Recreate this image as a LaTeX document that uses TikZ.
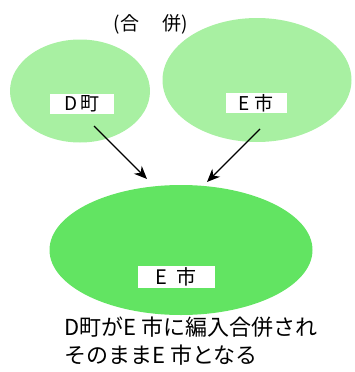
\documentclass[tikz,border=0pt]{standalone}
\usepackage{fontspec}
\setmainfont{Noto Sans CJK JP}
\usetikzlibrary{shapes.geometric}
\usetikzlibrary{arrows.meta}
\definecolor{paleGreen}{HTML}{A8F0A2}
\definecolor{deepGreen}{HTML}{62E462}

\begin{document}
\begin{tikzpicture}[x=1pt,y=-1pt,
  town/.style={ellipse, fill=paleGreen, inner sep=0},
  tag/.style={fill=white, inner sep=0, minimum width=64pt, minimum height=20pt,
    font=\fontsize{19}{19}\selectfont},
  merge/.style={-{Stealth[length=13pt,width=11pt]}, line width=1.2pt}]
\useasboundingbox (0,0) rectangle (355,372);

% the two towns before the merger
\node[town, minimum width=140pt, minimum height=103pt] (dtown) at (80,91) {};
\node[town, minimum width=189pt, minimum height=124pt] (ecity) at (257,80) {};
\node[font=\fontsize{19}{19}\selectfont] (title) at (151,24) {(合\hspace{1.25em}併)};

% the city after the merger
\node[ellipse, fill=deepGreen, inner sep=0, minimum width=263pt, minimum height=130pt] (newcity) at (181,250) {};

\node[tag] (dlbl) at (82,104) {D\,町};
\node[tag, minimum width=61pt] (elbl) at (256,103) {E 市};
\node[tag, minimum width=77pt, minimum height=22pt, font=\fontsize{20}{20}\selectfont] (newlbl) at (176,277) {E\hspace{0.5em}市};

\coordinate (dtail) at (94,126);
\coordinate (dhead) at (147,179);
\coordinate (etail) at (260,129);
\coordinate (ehead) at (207,182);
\draw[merge] (dtail) -- (dhead);
\draw[merge] (etail) -- (ehead);

\node[anchor=west, align=left, inner sep=0, font=\fontsize{22}{28}\selectfont] (caption) at (64,341)
  {D町がE 市に編入合併され\\そのままE 市となる};
\end{tikzpicture}
\end{document}
